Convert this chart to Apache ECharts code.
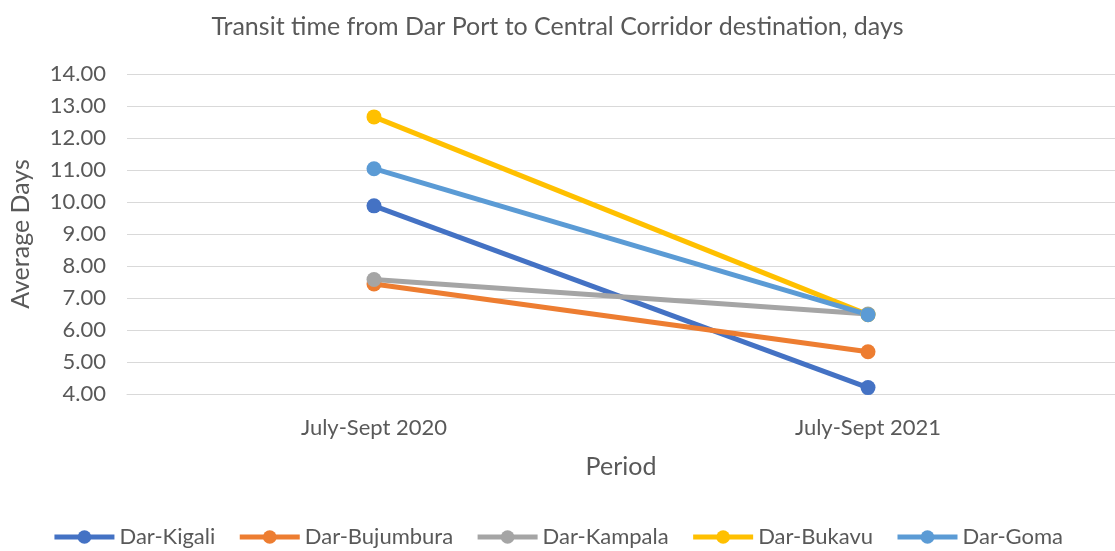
<!DOCTYPE html>
<html>
<head>
<meta charset="utf-8">
<script src="https://cdn.jsdelivr.net/npm/echarts@6/dist/echarts.min.js"></script>
<style>
  html, body { margin: 0; padding: 0; background: #fff; }
  #chart { width: 1115px; height: 551px; }
</style>
</head>
<body>
<div id="chart"></div>
<script>
const periods = ["July-Sept 2020", "July-Sept 2021"];
const kigali = [9.88, 4.2];
const bujumbura = [7.44, 5.32];
const kampala = [7.58, 6.5];
const bukavu = [12.66, 6.48];
const goma = [11.04, 6.48];

const seriesDefs = [
  { name: "Dar-Kigali", data: kigali, color: "#4472C4" },
  { name: "Dar-Bujumbura", data: bujumbura, color: "#ED7D31" },
  { name: "Dar-Kampala", data: kampala, color: "#A5A5A5" },
  { name: "Dar-Bukavu", data: bukavu, color: "#FFC000" },
  { name: "Dar-Goma", data: goma, color: "#5B9BD5" }
];

const font = "Lato, 'Open Sans', sans-serif";
const chart = echarts.init(document.getElementById("chart"));

chart.setOption({
  animation: false,
  textStyle: { fontFamily: font },
  title: {
    text: "Transit time from Dar Port to Central Corridor destination, days",
    left: "center",
    top: 9,
    textStyle: { fontSize: 25, fontWeight: "normal", color: "#595959", fontFamily: font }
  },
  legend: {
    bottom: -2,
    left: "center",
    itemWidth: 60,
    itemHeight: 17,
    itemGap: 22,
    lineStyle: { width: 5 },
    textStyle: { fontSize: 22, color: "#595959", fontFamily: font },
    data: seriesDefs.map(s => s.name)
  },
  grid: { left: 125, top: 74, width: 998, bottom: 157 },
  xAxis: {
    type: "category",
    data: periods,
    boundaryGap: true,
    name: "Period",
    nameLocation: "middle",
    nameGap: 60,
    nameTextStyle: { fontSize: 25, color: "#595959" },
    axisLine: { lineStyle: { color: "#D9D9D9" } },
    axisTick: { show: false },
    axisLabel: { fontSize: 22, color: "#595959", margin: 23 }
  },
  yAxis: {
    type: "value",
    min: 4,
    max: 14,
    interval: 1,
    name: "Average Days",
    nameLocation: "middle",
    nameGap: 94,
    nameTextStyle: { fontSize: 25, color: "#595959" },
    axisLine: { show: false },
    axisTick: { show: false },
    axisLabel: { fontSize: 22, color: "#595959", margin: 21, formatter: v => v.toFixed(2) },
    splitLine: { lineStyle: { color: "#D9D9D9", width: 1 } }
  },
  series: seriesDefs.map(s => ({
    name: s.name,
    type: "line",
    data: s.data,
    symbol: "circle",
    symbolSize: 15,
    color: s.color,
    lineStyle: { width: 5, color: s.color },
    itemStyle: { color: s.color }
  }))
});
</script>
</body>
</html>
